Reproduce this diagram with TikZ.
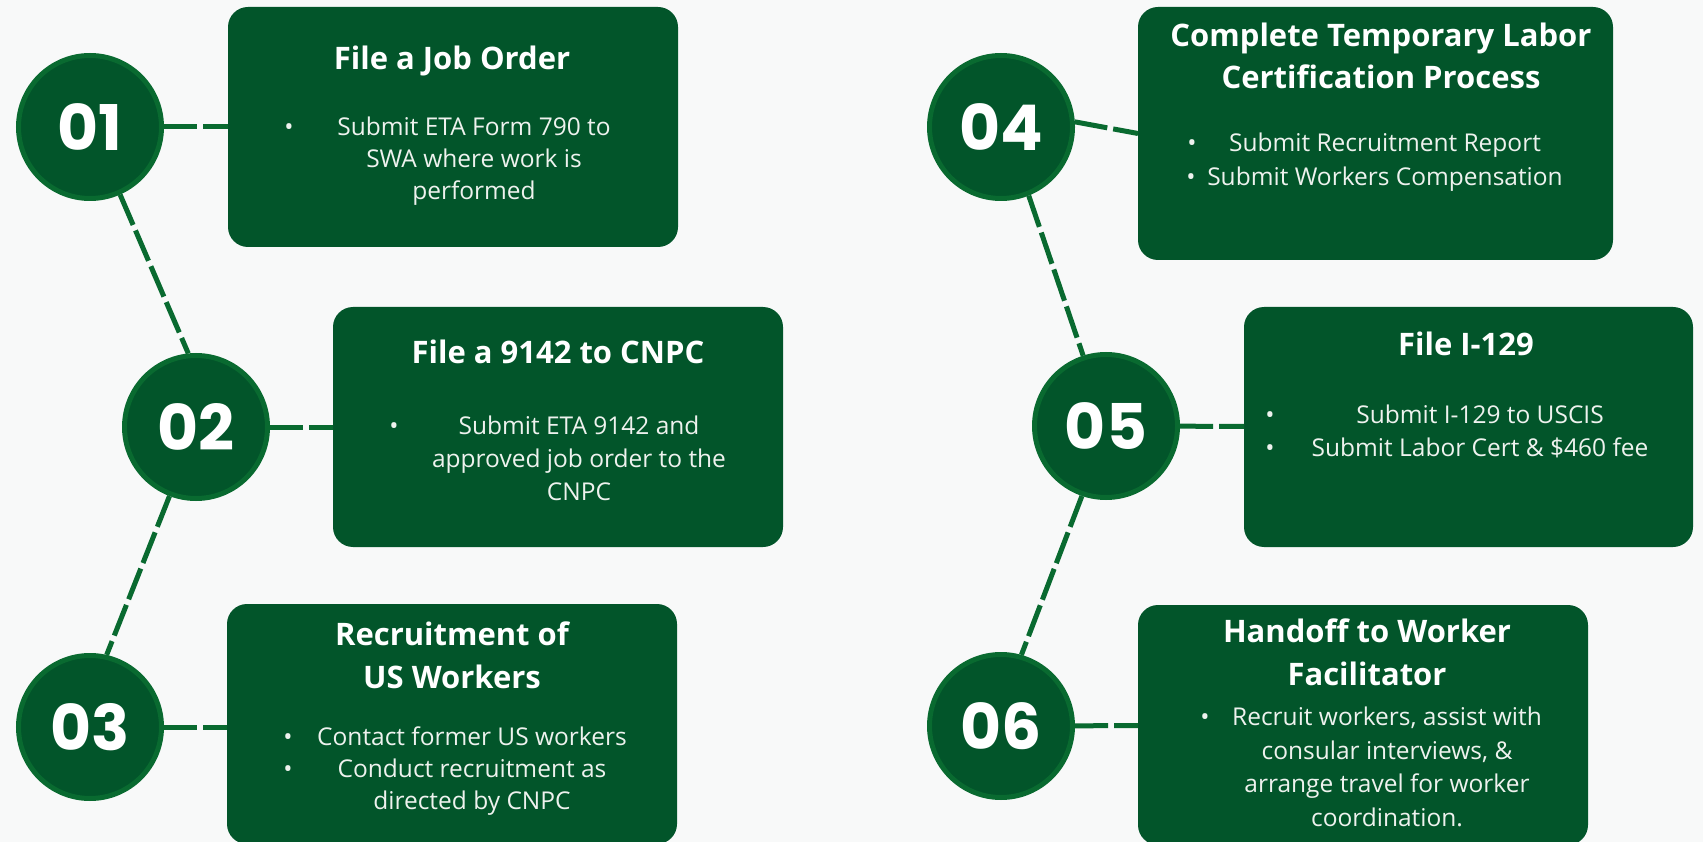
\documentclass[tikz,border=0pt]{standalone}
\usepackage{fontspec}
\setmainfont{Open Sans}
\newfontfamily\numfont{Poppins}
\definecolor{bgc}{RGB}{248,249,249}
\definecolor{boxc}{RGB}{2,85,42}
\definecolor{rimc}{RGB}{9,106,48}
\definecolor{txtc}{RGB}{238,242,238}
\tikzset{
  stepcirc/.style={circle, fill=boxc, draw=rimc, line width=5pt, minimum size=143pt, inner sep=0pt, text=white, font=\numfont\bfseries\fontsize{63}{63}\selectfont},
  stepbox/.style={rectangle, rounded corners=20pt, fill=boxc, inner sep=0pt, outer sep=0pt},
  ttl/.style={anchor=base, align=center, inner sep=0pt, text=white, font=\bfseries\fontsize{31}{43}\selectfont},
  bodytxt/.style={anchor=base, align=center, inner sep=0pt, text=txtc, font=\fontsize{24.5}{33}\selectfont},
  bul/.style={anchor=base, inner sep=0pt, text=txtc, font=\fontsize{24.5}{33}\selectfont},
  link/.style={draw=rimc, line width=5pt, dash pattern=on 33pt off 6pt}
}
\begin{document}
\begin{tikzpicture}[x=1pt,y=-1pt]
\useasboundingbox (0,0) rectangle (1703,842);
\fill[bgc] (0,0) rectangle (1703,842);
\clip (0,0) rectangle (1703,842);

% boxes
\node[stepbox, minimum width=450pt, minimum height=240pt] (B1) at (453,127) {};
\node[stepbox, minimum width=450pt, minimum height=240pt] (B2) at (558,427) {};
\node[stepbox, minimum width=450pt, minimum height=240pt] (B3) at (452,724) {};
\node[stepbox, minimum width=475pt, minimum height=253pt] (B4) at (1375.5,133.5) {};
\node[stepbox, minimum width=449pt, minimum height=240pt] (B5) at (1468.5,427) {};
\node[stepbox, minimum width=450pt, minimum height=240pt] (B6) at (1363,725) {};

% circles
\node[stepcirc] (c1) at (90,127) {01};
\node[stepcirc] (c2) at (196,427) {02};
\node[stepcirc] (c3) at (90,727) {03};
\node[stepcirc] (c4) at (1001,127) {04};
\node[stepcirc] (c5) at (1106,426) {05};
\node[stepcirc] (c6) at (1001,726) {06};

% connectors
\draw[link] (c1) -- (B1);
\draw[link] (c2) -- (B2);
\draw[link] (c3.east) -- (c3.east -| B3.west);
\draw[link] (c4.4) -- (B4.west);
\draw[link] (c5) -- (B5);
\draw[link] (c6) -- (B6);
\draw[link] (c1.-66) -- (c2.96);
\draw[link] (c2.-111) -- (c3.77);
\draw[link] (c4.-68) -- (c5.108);
\draw[link] (c5.-109) -- (c6.74);

% titles (base = baseline of last line)
\node[ttl] (t1) at (452,69.7) {File a Job Order};
\node[ttl] (t2) at (558,363.7) {File a 9142 to CNPC};
\node[ttl] (t3) at (452,688.7) {Recruitment of\\US Workers};
\node[ttl, font=\bfseries\fontsize{31}{42}\selectfont] (t4) at (1381,88.7) {Complete Temporary Labor\\Certification Process};
\node[ttl] (t5) at (1466,355.7) {File I-129};
\node[ttl] (t6) at (1367,685.7) {Handoff to Worker\\Facilitator};

% bodies (base = baseline of last line)
\node[bodytxt, font=\fontsize{24.5}{32}\selectfont] (d1) at (474,199.5) {Submit ETA Form 790 to\\SWA where work is\\performed};
\node[bodytxt] (d2) at (579,500.5) {Submit ETA 9142 and\\approved job order to the\\CNPC};
\node[bodytxt, font=\fontsize{24.5}{32}\selectfont] (d3) at (472,809.5) {Contact former US workers\\Conduct recruitment as\\directed by CNPC};
\node[bodytxt, font=\fontsize{24.5}{34}\selectfont] (d4) at (1385,185.5) {Submit Recruitment Report\\Submit Workers Compensation};
\node[bodytxt] (d5) at (1480,456.5) {Submit I-129 to USCIS\\Submit Labor Cert \& \$460 fee};
\node[bodytxt, font=\fontsize{24.5}{33.5}\selectfont] (d6) at (1387,826) {Recruit workers, assist with\\consular interviews, \&\\arrange travel for worker\\coordination.};

% bullets
\node[bul] (p1) at (289,135.5) {•};
\node[bul] (p2) at (394,434.5) {•};
\node[bul] (p3a) at (288,745.5) {•};
\node[bul] (p3b) at (288,777.5) {•};
\node[bul] (p4a) at (1192,151.5) {•};
\node[bul] (p4b) at (1191,185.5) {•};
\node[bul] (p5a) at (1270,423.5) {•};
\node[bul] (p5b) at (1270,456.5) {•};
\node[bul] (p6) at (1205,725.5) {•};
\end{tikzpicture}
\end{document}
